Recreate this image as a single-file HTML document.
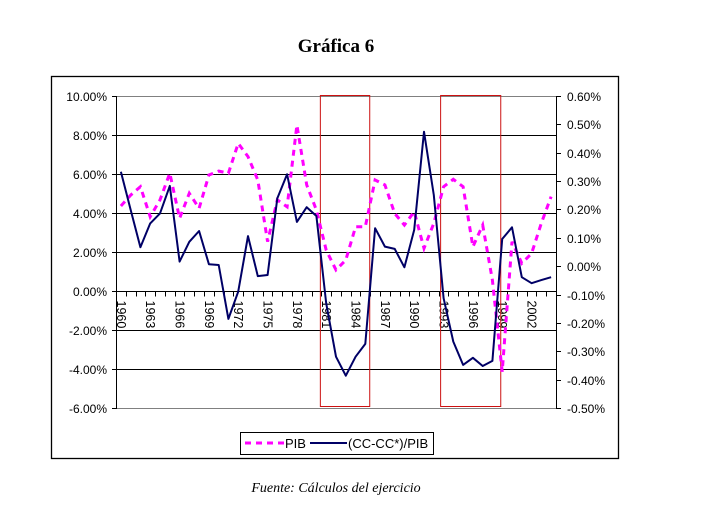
<!DOCTYPE html>
<html><head><meta charset="utf-8"><style>
html,body{margin:0;padding:0;background:#fff;}
svg{display:block;font-family:"Liberation Sans",Arial,sans-serif;}
</style></head><body>
<svg id="chart" width="705" height="526" viewBox="0 0 705 526">
<text x="336" y="52" text-anchor="middle" font-family="Liberation Serif,serif" font-weight="bold" font-size="19">Gráfica 6</text>
<rect x="51.5" y="76.5" width="567" height="382" fill="none" stroke="#000" stroke-width="1.3"/>
<g id="grid"></g>
<g id="axes"></g>
<g id="boxes"></g>
<g id="series"></g>
<g>
<rect x="240.5" y="432.5" width="193" height="22" fill="#fff" stroke="#000"/>
<line x1="245" y1="443" x2="284" y2="443" stroke="#ff00ff" stroke-width="3" stroke-dasharray="6,5"/>
<text x="285" y="448" font-size="13">PIB</text>
<line x1="310" y1="443" x2="347" y2="443" stroke="#000066" stroke-width="2"/>
<text x="348" y="448" font-size="13">(CC-CC*)/PIB</text>
</g>
<text x="336" y="492" text-anchor="middle" font-family="Liberation Serif,serif" font-style="italic" font-size="14">Fuente: Cálculos del ejercicio</text>
</svg>
<script>
const years = [];
for (let y = 1960; y <= 2004; y++) years.push(y);
const pibValues = [4.36,4.92,5.35,3.81,4.67,6.04,3.73,5.01,4.24,5.95,6.15,6.04,7.57,6.89,5.69,2.53,4.67,4.32,8.51,5.44,4.15,2.10,1.08,1.59,3.30,3.30,5.69,5.44,3.98,3.38,4.07,2.19,3.47,5.35,5.73,5.35,2.27,3.38,0.56,-4.14,2.53,1.42,1.93,3.47,4.84];
const ccValues = [0.333,0.198,0.067,0.151,0.186,0.283,0.016,0.086,0.124,0.007,0.004,-0.186,-0.090,0.106,-0.035,-0.031,0.239,0.324,0.156,0.208,0.177,-0.131,-0.319,-0.386,-0.319,-0.274,0.134,0.069,0.061,-0.004,0.128,0.474,0.251,-0.113,-0.266,-0.348,-0.323,-0.352,-0.334,0.096,0.137,-0.039,-0.060,-0.049,-0.039];
const leftTicks = [10,8,6,4,2,0,-2,-4,-6];
const rightTicks = [0.6,0.5,0.4,0.3,0.2,0.1,0,-0.1,-0.2,-0.3,-0.4,-0.5];
const highlightRanges = [[1980.4,1985.45],[1992.7,1998.85]];

const NS = "http://www.w3.org/2000/svg";
const X0 = 116, X1 = 556, Y0 = 96, Y1 = 408;
const step = (X1 - X0) / years.length;
const xOf = i => X0 + step * (i + 0.5);
const yL = v => Y0 + (10 - v) / 16 * (Y1 - Y0);
const yR = v => Y0 + (0.6 - v) / 1.1 * (Y1 - Y0);
function mk(tag, attrs, parent) { const e = document.createElementNS(NS, tag); for (const k in attrs) e.setAttribute(k, attrs[k]); parent.appendChild(e); return e; }
const grid = document.getElementById('grid'), axes = document.getElementById('axes'), boxes = document.getElementById('boxes'), series = document.getElementById('series');

leftTicks.forEach(v => {
  const y = Math.round(yL(v)) + 0.5;
  const edge = (v === 10 || v === -6);
  const g = mk('line', {x1: X0, x2: X1, y1: y, y2: y, stroke: edge ? '#808080' : '#000', 'stroke-width': 1}, grid);
  
  
  const t = mk('line', {x1: X0 - 4, x2: X0, y1: y, y2: y, stroke: '#000'}, axes);
  
  
  const lbl = mk('text', {x: 107, y: y + 4.5, 'text-anchor': 'end', 'font-size': 12}, axes);
  lbl.textContent = v.toFixed(2) + '%';
  
  
});
const la = mk('line', {x1: X0 + 0.5, x2: X0 + 0.5, y1: Y0, y2: Y1 + 1, stroke: '#000'}, axes);


const ra = mk('line', {x1: X1 + 0.5, x2: X1 + 0.5, y1: Y0, y2: Y1 + 1, stroke: '#000'}, axes);


rightTicks.forEach(v => {
  const y = Math.round(yR(v)) + 0.5;
  const t = mk('line', {x1: X1, x2: X1 + 5, y1: y, y2: y, stroke: '#000'}, axes);
  
  
  const lbl = mk('text', {x: 567, y: y + 4.5, 'font-size': 12}, axes);
  lbl.textContent = v.toFixed(2) + '%';
  
  
});
const y0 = Math.round(yL(0)) + 0.5;
years.forEach((yr, i) => {
  const x = Math.round(X0 + step * i) + 0.5;
  const t = mk('line', {x1: x, x2: x, y1: y0, y2: y0 + 5, stroke: '#000'}, axes);
  
  
  if ((yr - 1960) % 3 === 0) {
    const cx = xOf(i);
    const lbl = mk('text', {x: 0, y: 0, 'font-size': 12.5, transform: `translate(${cx - 4},${y0 + 9}) rotate(90)`}, axes);
    lbl.textContent = yr;
    
    
  }
});
highlightRanges.forEach(r => {
  const xa = xOf(r[0] - years[0]), xb = xOf(r[1] - years[0]);
  const b = mk('rect', {x: xa, y: 95.5, width: xb - xa, height: 311, fill: 'none', stroke: '#cc1111', 'stroke-width': 1}, boxes);
  
  
});
const pibPts = pibValues.map((v, i) => xOf(i).toFixed(1) + ',' + yL(v).toFixed(1)).join(' ');
const pl = mk('polyline', {points: pibPts, fill: 'none', stroke: '#ff00ff', 'stroke-width': 3, 'stroke-dasharray': '6,5'}, series);


const ccPts = ccValues.map((v, i) => xOf(i).toFixed(1) + ',' + yR(v).toFixed(1)).join(' ');
const cl = mk('polyline', {points: ccPts, fill: 'none', stroke: '#000066', 'stroke-width': 2, 'stroke-linejoin': 'round'}, series);


</script>
</body></html>
